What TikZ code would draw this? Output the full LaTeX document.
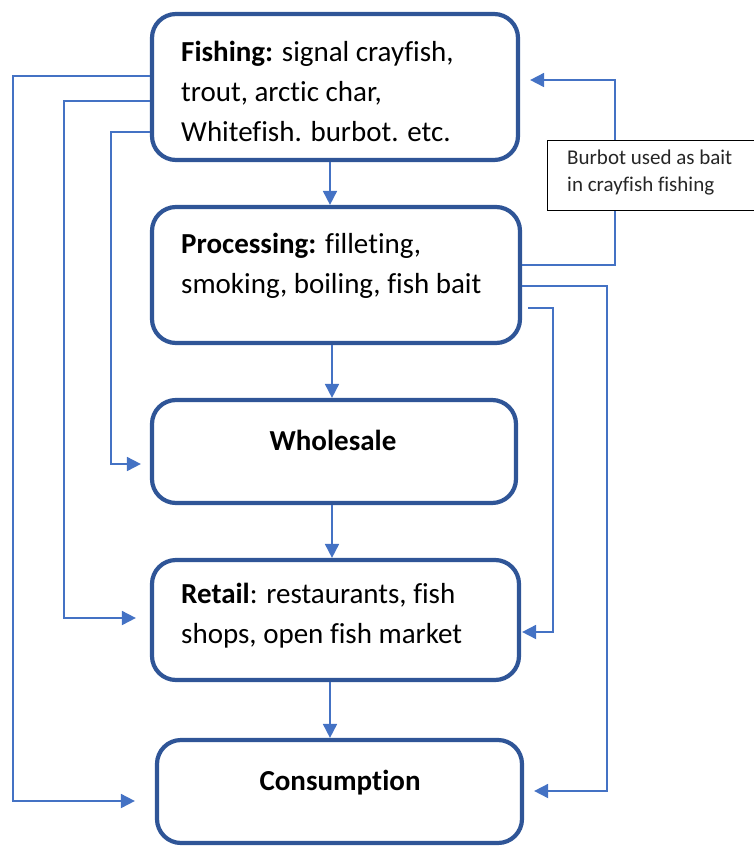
\documentclass[tikz,border=0pt]{standalone}
\usepackage{fontspec}
\setmainfont{Carlito}[Ligatures=NoCommon]
\usetikzlibrary{arrows.meta}
\definecolor{boxblue}{HTML}{2F5597}
\definecolor{lineblue}{HTML}{4472C4}
\begin{document}
\begin{tikzpicture}[x=1pt,y=-1pt,
  stage/.style={draw=boxblue, line width=4.2pt, rounded corners=24pt, fill=white, inner sep=0pt},
  txt/.style={font=\fontsize{29}{40}\selectfont, align=left, inner sep=0pt, text=black},
  flow/.style={draw=lineblue, line width=1.8pt, -{Triangle[length=14pt,width=14pt]}},
  note/.style={draw=black, line width=1.4pt, fill=white, inner sep=0pt},
  notetxt/.style={font=\fontsize{21}{27}\selectfont, align=left, inner sep=0pt, text=black!85}
]
\useasboundingbox (0,0) rectangle (754,846);

% stages
\node[stage, minimum width=366pt, minimum height=146pt] (fish) at (335,87) {};
\node[stage, minimum width=368pt, minimum height=136pt] (proc) at (336,275) {};
\node[stage, minimum width=364pt, minimum height=103pt] (whole) at (334,451.5) {};
\node[stage, minimum width=367pt, minimum height=120pt] (retail) at (335.5,620) {};
\node[stage, minimum width=365pt, minimum height=103pt] (cons) at (339.5,791.5) {};

% texts
\node[txt, anchor=west] (fishT) at (181,91) {\textbf{Fishing:} signal crayfish,\\trout, arctic char,\\Whitefish. burbot. etc.};
\node[txt, anchor=west] (procT) at (181,266) {\textbf{Processing:} filleting,\\smoking, boiling, fish bait};
\node[txt] (wholeT) at (333,440) {\textbf{Wholesale}};
\node[txt, anchor=west] (retailT) at (181,616) {\textbf{Retail}: restaurants, fish\\shops, open fish market};
\node[txt] (consT) at (340,783) {\textbf{Consumption}};

% main chain
\draw[flow] ([xshift=-5pt]fish.south) -- ([xshift=-6pt]proc.north);
\draw[flow] ([xshift=-4pt]proc.north |- proc.south) -- ([xshift=-2pt]whole.north);
\draw[flow] ([xshift=-2pt]whole.south) -- ([xshift=-3.5pt]retail.north);
\draw[flow] ([xshift=-5.5pt]retail.south) -- ([xshift=-9.5pt]cons.north);

% left bypasses
\draw[flow, shorten >=20pt] (fish.west |- 0,76) -| (13,801) -- (cons.west |- 0,801);
\draw[flow, shorten >=14pt] (fish.west |- 0,101) -| (64,618) -- (retail.west |- 0,618);
\draw[flow, shorten >=9pt] (fish.west |- 0,132) -| (111,464) -- (whole.west |- 0,464);

% right connectors
\coordinate (innerStart) at (528,308);
\draw[flow, shorten >=10pt] (proc.east |- 0,265) -| (615,80) -- (fish.east |- 0,80);
\draw[flow, shorten >=10pt] (proc.east |- 0,286) -| (607,791) -- (cons.east |- 0,791);
\draw[flow, shorten >=1pt] (innerStart) -| (553,632) -- (retail.east |- 0,632);

% note
\begin{scope}
\clip (0,0) rectangle (754,846);
\node[note, anchor=north west, minimum width=240pt, minimum height=70pt] (bait) at (547,140) {};
\end{scope}
\node[notetxt, anchor=north west] (baitT) at (567,150) {Burbot used as bait\\in crayfish fishing};
\end{tikzpicture}
\end{document}
